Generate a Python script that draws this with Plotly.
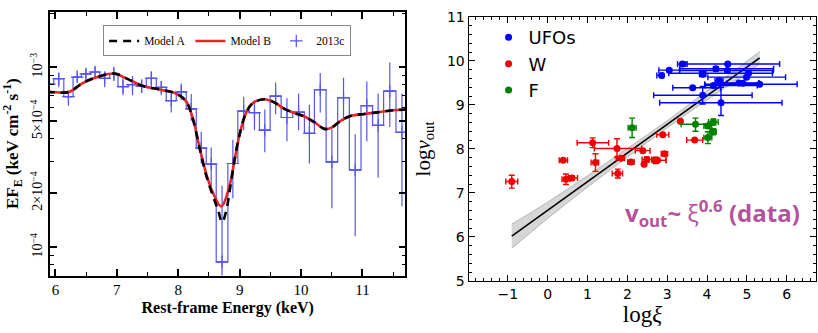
import plotly.graph_objects as go

# ---------------- Left panel: spectrum ----------------
bin_edges = [5.827, 5.973, 6.136, 6.287, 6.423, 6.569, 6.721, 6.883, 7.019, 7.182,
             7.328, 7.480, 7.642, 7.805, 7.967, 8.130, 8.293, 8.455, 8.618, 8.808,
             8.970, 9.160, 9.322, 9.496, 9.675, 9.864, 10.054, 10.217, 10.407, 10.596,
             10.786, 10.976, 11.165, 11.344, 11.545, 11.74]
flux = [8.06e-4, 8.64e-4, 6.86e-4, 8.82e-4, 9.18e-4, 9.41e-4, 8.68e-4, 9.18e-4, 7.81e-4, 8.00e-4,
        7.84e-4, 8.68e-4, 7.74e-4, 6.53e-4, 7.29e-4, 5.87e-4, 3.55e-4, 2.90e-4, 8.3e-5, 2.92e-4,
        5.71e-4, 5.60e-4, 4.47e-4, 6.91e-4, 5.26e-4, 5.64e-4, 4.29e-4, 7.50e-4, 2.98e-4, 6.77e-4,
        2.69e-4, 6.12e-4, 4.76e-4, 7.37e-4, 4.35e-4]
flux_hi = [8.7e-4, 9.30e-4, 7.43e-4, 9.56e-4, 9.80e-4, 1.008e-3, 9.49e-4, 1.008e-3, 8.93e-4, 8.93e-4,
           8.57e-4, 9.49e-4, 8.40e-4, 7.20e-4, 8.13e-4, 7.10e-4, 4.38e-4, 3.58e-4, 2.20e-4, 3.96e-4,
           6.86e-4, 6.58e-4, 5.83e-4, 8.23e-4, 6.72e-4, 7.14e-4, 6.19e-4, 9.30e-4, 4.53e-4, 8.75e-4,
           4.24e-4, 8.33e-4, 7.14e-4, 1.063e-3, 7.14e-4]
flux_lo = [7.5e-4, 7.74e-4, 6.12e-4, 8.23e-4, 8.57e-4, 8.82e-4, 7.74e-4, 8.40e-4, 7.00e-4, 7.00e-4,
           7.20e-4, 7.59e-4, 7.00e-4, 5.60e-4, 6.58e-4, 5.05e-4, 2.92e-4, 2.15e-4, 5.0e-5, 1.87e-4,
           4.47e-4, 4.47e-4, 3.37e-4, 5.48e-4, 3.88e-4, 4.47e-4, 2.92e-4, 5.60e-4, 1.65e-4, 5.05e-4,
           1.15e-4, 3.88e-4, 2.43e-4, 4.66e-4, 1.69e-4]

model_b_energy = [5.854, 6.016, 6.125, 6.233, 6.450, 6.721, 6.965, 7.154, 7.425, 7.696,
                  7.967, 8.130, 8.238, 8.347, 8.455, 8.564, 8.699, 8.835, 8.916, 8.997,
                  9.106, 9.214, 9.404, 9.566, 9.729, 9.892, 10.054, 10.217, 10.379, 10.488,
                  10.650, 10.813, 11.030, 11.247, 11.463, 11.707]
model_b_flux = [7.285e-4, 7.26e-4, 7.227e-4, 7.31e-4, 8.196e-4, 8.926e-4, 9.22e-4, 8.676e-4, 7.87e-4, 7.525e-4,
                7.139e-4, 6.45e-4, 5.2e-4, 3.579e-4, 2.566e-4, 2.011e-4, 1.688e-4, 2.198e-4, 3.042e-4, 4.21e-4,
                5.595e-4, 6.32e-4, 6.636e-4, 6.37e-4, 5.874e-4, 5.572e-4, 5.328e-4, 4.952e-4, 4.547e-4, 4.603e-4,
                5.054e-4, 5.372e-4, 5.504e-4, 5.617e-4, 5.754e-4, 5.827e-4]

model_a_energy = [5.854, 6.016, 6.125, 6.233, 6.450, 6.721, 6.965, 7.154, 7.425, 7.696,
                  7.967, 8.130, 8.238, 8.347, 8.455, 8.564, 8.645, 8.715, 8.780, 8.846, 8.916, 8.997,
                  9.106, 9.214, 9.404, 9.566, 9.729, 9.892, 10.054, 10.217, 10.379, 10.488,
                  10.650, 10.813, 11.030, 11.247, 11.463, 11.707]
model_a_flux = [7.285e-4, 7.26e-4, 7.227e-4, 7.31e-4, 8.196e-4, 8.926e-4, 9.22e-4, 8.676e-4, 7.87e-4, 7.525e-4,
                7.139e-4, 6.45e-4, 5.158e-4, 3.55e-4, 2.504e-4, 1.93e-4, 1.623e-4, 1.378e-4, 1.589e-4, 2.154e-4, 3.042e-4, 4.21e-4,
                5.595e-4, 6.32e-4, 6.636e-4, 6.37e-4, 5.874e-4, 5.572e-4, 5.328e-4, 4.952e-4, 4.547e-4, 4.603e-4,
                5.054e-4, 5.372e-4, 5.504e-4, 5.617e-4, 5.754e-4, 5.827e-4]

left_ytick_vals = [1e-4, 2e-4, 5e-4, 1e-3]
left_ytick_text = ["10<sup>−4</sup>", "2×10<sup>−4</sup>", "5×10<sup>−4</sup>", "10<sup>−3</sup>"]
left_yminor_vals = [6e-5, 7e-5, 8e-5, 9e-5, 3e-4, 4e-4, 6e-4, 7e-4, 8e-4, 9e-4, 2e-3]

# ---------------- Right panel: v_out vs xi ----------------
ufo_x = [3.38, 4.52, 3.05, 4.22, 4.51, 2.86, 3.89, 5.04, 4.99, 4.30, 4.16, 3.64, 4.80, 4.90, 5.32, 3.89, 4.35]
ufo_y = [9.93, 9.93, 9.79, 9.82, 9.78, 9.67, 9.70, 9.72, 9.63, 9.55, 9.44, 9.39, 9.50, 9.49, 9.47, 9.22, 9.05]
ufo_xerr_p = [0.12, 1.30, 0.26, 1.45, 1.15, 0.05, 0.08, 0.60, 0.98, 0.10, 1.10, 0.70, 0.50, 0.40, 0.94, 1.24, 1.53]
ufo_xerr_m = [0.12, 1.06, 0.26, 0.90, 1.20, 0.12, 0.08, 2.00, 0.97, 0.10, 0.20, 0.50, 0.50, 0.40, 1.38, 1.23, 1.54]
ufo_yerr_p = [0.02, 0.02, 0.02, 0.05, 0.02, 0.02, 0.06, 0.02, 0.02, 0.05, 0.02, 0.02, 0.02, 0.02, 0.02, 0.20, 0.35]
ufo_yerr_m = [0.02, 0.02, 0.02, 0.05, 0.02, 0.02, 0.06, 0.02, 0.02, 0.05, 0.02, 0.02, 0.02, 0.02, 0.02, 0.20, 0.29]

w_x = [-0.90, 0.39, 0.46, 0.61, 1.13, 1.20, 1.74, 1.84, 1.76, 2.09, 2.39, 2.42, 2.49, 2.71, 2.76, 2.93, 2.89, 3.33, 3.69]
w_y = [7.26, 7.74, 7.31, 7.34, 8.14, 7.69, 8.01, 7.79, 7.44, 7.70, 7.96, 7.65, 7.76, 7.74, 7.74, 7.89, 8.32, 8.63, 8.20]
w_xerr_p = [0.15, 0.11, 0.10, 0.14, 0.40, 0.08, 0.62, 0.09, 0.12, 0.08, 0.18, 0.03, 0.12, 0.26, 0.21, 0.08, 0.15, 0.03, 0.20]
w_xerr_m = [0.15, 0.10, 0.10, 0.09, 0.39, 0.11, 0.57, 0.12, 0.14, 0.08, 0.19, 0.03, 0.12, 0.09, 0.10, 0.08, 0.15, 0.03, 0.20]
w_yerr_p = [0.14, 0.02, 0.12, 0.05, 0.11, 0.20, 0.22, 0.02, 0.10, 0.02, 0.02, 0.02, 0.06, 0.07, 0.02, 0.03, 0.02, 0.02, 0.02]
w_yerr_m = [0.15, 0.02, 0.12, 0.05, 0.11, 0.20, 0.20, 0.02, 0.10, 0.02, 0.02, 0.02, 0.06, 0.07, 0.02, 0.03, 0.02, 0.02, 0.02]

f_x = [2.12, 3.71, 4.02, 4.16, 4.15, 4.02]
f_y = [8.48, 8.56, 8.52, 8.61, 8.39, 8.26]
f_xerr_p = [0.10, 0.31, 0.10, 0.12, 0.08, 0.10]
f_xerr_m = [0.10, 0.36, 0.10, 0.12, 0.08, 0.10]
f_yerr_p = [0.22, 0.14, 0.05, 0.07, 0.07, 0.13]
f_yerr_m = [0.22, 0.16, 0.05, 0.07, 0.07, 0.14]

fit_x = [-0.90, 5.32]
fit_y = [6.02, 10.07]
band_x = [-0.90, 0.0, 1.0, 2.0, 3.0, 4.0, 5.32]
band_lo = [5.74, 6.42, 7.13, 7.81, 8.48, 9.11, 9.93]
band_hi = [6.29, 6.79, 7.39, 8.01, 8.64, 9.32, 10.21]

fig = go.Figure()

SERIF = "Liberation Serif"
SANS = "DejaVu Sans"
BLUE_L = "rgb(85,85,235)"

# histogram steps
fig.add_trace(go.Scatter(x=bin_edges, y=flux + [flux[-1]], mode="lines", line_shape="hv",
                         line=dict(color=BLUE_L, width=1.2), showlegend=False,
                         xaxis="x", yaxis="y", hoverinfo="skip"))
centers = [(bin_edges[i] + bin_edges[i + 1]) / 2 for i in range(len(flux))]
halfw = [(bin_edges[i + 1] - bin_edges[i]) / 2 for i in range(len(flux))]
fig.add_trace(go.Scatter(x=centers, y=flux, mode="markers",
                         marker=dict(size=9, symbol="cross-thin-open", color=BLUE_L,
                                     line=dict(color=BLUE_L, width=1.2)),
                         error_y=dict(type="data", array=[h - v for h, v in zip(flux_hi, flux)],
                                      arrayminus=[v - l for v, l in zip(flux, flux_lo)],
                                      color=BLUE_L, thickness=1.2, width=0),
                         error_x=dict(type="data", array=halfw, color=BLUE_L, thickness=1.2, width=0),
                         name="2013c", legend="legend2", xaxis="x", yaxis="y"))
fig.add_trace(go.Scatter(x=model_b_energy, y=model_b_flux, mode="lines", line_shape="spline",
                         line=dict(color="#e8262a", width=2.6), name="Model B", legend="legend2",
                         xaxis="x", yaxis="y"))
fig.add_trace(go.Scatter(x=model_a_energy, y=model_a_flux, mode="lines", line_shape="spline",
                         line=dict(color="black", width=2.6, dash="8px,6px"), name="Model A",
                         legend="legend2", xaxis="x", yaxis="y"))

# right panel band and fit
fig.add_trace(go.Scatter(x=band_x, y=band_lo, mode="lines", line=dict(color="#a8a8a8", width=0.8),
                         line_shape="spline", showlegend=False, xaxis="x2", yaxis="y2", hoverinfo="skip"))
fig.add_trace(go.Scatter(x=band_x, y=band_hi, mode="lines", line=dict(color="#a8a8a8", width=0.8),
                         line_shape="spline", fill="tonexty", fillcolor="rgba(200,200,200,0.75)",
                         showlegend=False, xaxis="x2", yaxis="y2", hoverinfo="skip"))
fig.add_trace(go.Scatter(x=fit_x, y=fit_y, mode="lines", line=dict(color="black", width=1.6),
                         showlegend=False, xaxis="x2", yaxis="y2"))


def pts(name, x, y, xp, xm, yp, ym, color):
    return go.Scatter(x=x, y=y, mode="markers", name=name,
                      marker=dict(color=color, size=7),
                      error_x=dict(type="data", array=xp, arrayminus=xm, color=color, thickness=1.4, width=3),
                      error_y=dict(type="data", array=yp, arrayminus=ym, color=color, thickness=1.4, width=3),
                      xaxis="x2", yaxis="y2", legend="legend")


fig.add_trace(pts("UFOs", ufo_x, ufo_y, ufo_xerr_p, ufo_xerr_m, ufo_yerr_p, ufo_yerr_m, "#0000ff"))
fig.add_trace(pts("W", w_x, w_y, w_xerr_p, w_xerr_m, w_yerr_p, w_yerr_m, "#f00000"))
fig.add_trace(pts("F", f_x, f_y, f_xerr_p, f_xerr_m, f_yerr_p, f_yerr_m, "#008000"))

left_axis_common = dict(showline=True, linecolor="black", linewidth=1.8, mirror="allticks",
                        ticks="inside", ticklen=7, tickwidth=1.5, tickcolor="black",
                        showgrid=False, zeroline=False)
right_axis_common = dict(showline=True, linecolor="black", linewidth=1.3, mirror="allticks",
                         ticks="inside", ticklen=6, tickwidth=1.2, tickcolor="black",
                         showgrid=False, zeroline=False,
                         tickfont=dict(family=SANS, size=14, color="black"))

fig.update_layout(
    width=818, height=333, margin=dict(l=0, r=0, t=0, b=0),
    paper_bgcolor="white", plot_bgcolor="white",
    xaxis=dict(domain=[0.0611, 0.4963], range=[5.91, 11.70], anchor="y",
               tickvals=[6, 7, 8, 9, 10, 11],
               tickfont=dict(family=SERIF, size=15, color="black"),
               minor=dict(ticks="inside", ticklen=4, tickwidth=1.3, tickcolor="black",
                          tickvals=[6.5, 7.5, 8.5, 9.5, 10.5, 11.5]),
               title=dict(text="<b>Rest-frame Energy (keV)</b>", font=dict(family=SERIF, size=16, color="black"),
                          standoff=4),
               **left_axis_common),
    yaxis=dict(domain=[0.156, 0.988], type="log", range=[-4.157, -2.692], anchor="x",
               tickvals=left_ytick_vals, ticktext=left_ytick_text, tickangle=-90,
               tickfont=dict(family=SERIF, size=14, color="black"),
               minor=dict(ticks="inside", ticklen=4, tickwidth=1.3, tickcolor="black",
                          tickvals=left_yminor_vals),
               title=dict(text="<b>EF<sub>E</sub> (keV cm<sup>-2</sup> s<sup>-1</sup>)</b>",
                          font=dict(family=SERIF, size=17, color="black"), standoff=5),
               **left_axis_common),
    xaxis2=dict(domain=[0.5737, 0.9991], range=[-1.98, 6.74], anchor="y2",
                tickvals=[-1, 0, 1, 2, 3, 4, 5, 6],
                minor=dict(ticks="inside", ticklen=3, tickwidth=1, tickcolor="black", dtick=0.2),
                title=dict(text="log<i>ξ</i>", font=dict(family=SERIF, size=23, color="black"), standoff=2),
                **right_axis_common),
    yaxis2=dict(domain=[0.139, 0.972], range=[5, 11], anchor="x2",
                tickvals=[5, 6, 7, 8, 9, 10, 11],
                minor=dict(ticks="inside", ticklen=3, tickwidth=1, tickcolor="black", dtick=0.2),
                title=dict(text="log<i>v</i><sub>out</sub>", font=dict(family=SERIF, size=21, color="black"),
                           standoff=10),
                **right_axis_common),
    legend=dict(x=0.598, y=0.965, xanchor="left", yanchor="top", bgcolor="rgba(0,0,0,0)",
                font=dict(family=SANS, size=18, color="black"), tracegroupgap=0, itemwidth=30,
                traceorder="normal"),
    legend2=dict(x=0.278, y=0.945, xanchor="center", yanchor="top", orientation="h",
                 bgcolor="white", bordercolor="#888888", borderwidth=1,
                 font=dict(family=SERIF, size=11.5, color="black"), traceorder="reversed"),
    annotations=[dict(x=4.13, y=6.55, xref="x2", yref="y2", showarrow=False,
                      text="<b>v<sub>out</sub>~</b> ξ<sup><b>0.6</b></sup> <b>(data)</b>",
                      font=dict(family="Open Sans", size=24, color="#b4529d"))],
)

fig.write_html("out.html")
